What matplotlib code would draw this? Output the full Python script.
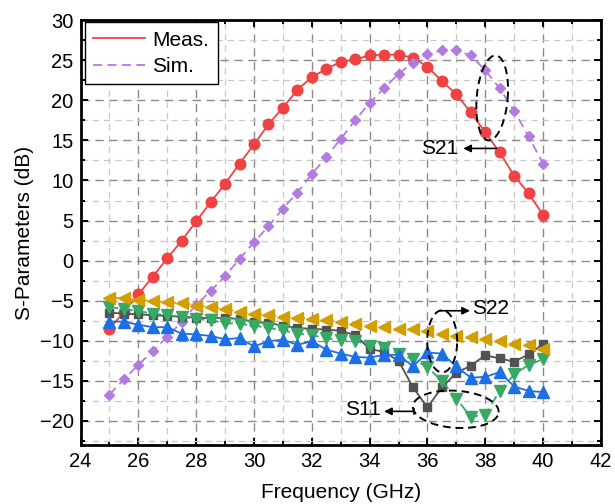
import numpy as np
import matplotlib
matplotlib.use("Agg")
import matplotlib.pyplot as plt
from matplotlib.ticker import MultipleLocator
from matplotlib.lines import Line2D

plt.rcParams['font.family'] = ['Liberation Sans', 'DejaVu Sans']

freq = [25.0, 25.5, 26.0, 26.5, 27.0, 27.5, 28.0, 28.5, 29.0, 29.5, 30.0,
        30.5, 31.0, 31.5, 32.0, 32.5, 33.0, 33.5, 34.0, 34.5, 35.0, 35.5,
        36.0, 36.5, 37.0, 37.5, 38.0, 38.5, 39.0, 39.5, 40.0]

s21_meas = [-8.5, -6.4, -4.2, -2.0, 0.3, 2.5, 4.9, 7.3, 9.6, 12.1, 14.5,
            17.0, 19.1, 21.3, 22.9, 23.9, 24.8, 25.1, 25.6, 25.7, 25.7, 25.3,
            24.2, 22.4, 20.75, 18.5, 16.0, 13.5, 10.6, 8.4, 5.7]
s21_sim = [-16.7, -14.8, -13.0, -11.25, -9.5, -7.6, -5.5, -3.8, -1.9, 0.2, 2.3,
           4.3, 6.5, 8.5, 10.8, 12.9, 15.2, 17.5, 19.7, 21.5, 23.3, 24.7,
           25.8, 26.25, 26.25, 25.6, 23.75, 21.5, 18.7, 15.5, 12.1]
s11_meas = [-6.5, -6.6, -6.7, -6.8, -6.9, -7.0, -7.1, -7.2, -7.1, -7.3, -7.6,
            -7.8, -8.1, -8.4, -8.5, -8.6, -8.75, -9.3, -11.0, -11.4, -12.5, -15.8,
            -18.3, -15.8, -14.0, -13.1, -11.8, -12.2, -12.6, -11.7, -10.4]
s11_sim = [-5.8, -6.0, -6.3, -6.6, -6.8, -7.0, -7.3, -7.4, -7.8, -7.9, -8.1,
           -8.4, -8.7, -9.1, -9.3, -9.7, -9.9, -10.0, -10.6, -10.9, -11.6, -12.3,
           -13.3, -15.0, -17.2, -19.5, -19.2, -16.25, -14.2, -13.0, -12.3]
s22_meas = [-7.6, -7.6, -8.0, -8.3, -8.3, -9.1, -9.2, -9.4, -9.8, -9.65, -10.7,
            -10.05, -9.85, -10.5, -10.05, -11.1, -11.6, -12.0, -12.1, -11.75, -11.75, -13.2,
            -11.45, -11.6, -13.2, -14.6, -14.5, -13.9, -15.7, -16.25, -16.4]
s22_sim = [-4.6, -4.7, -4.9, -5.0, -5.2, -5.3, -5.6, -5.8, -6.0, -6.4, -6.6,
           -6.8, -7.0, -7.1, -7.3, -7.4, -7.6, -7.9, -8.1, -8.3, -8.5, -8.5,
           -8.75, -9.2, -9.4, -9.5, -9.8, -10.0, -10.4, -10.5, -11.0]

legend_labels = ["Meas.", "Sim."]

RED = '#F04242'
PURPLE = '#B27BE0'
GOLD = '#D39E00'
GRAY = '#525252'
GREEN = '#38A865'
BLUE = '#1E6FE3'

fig = plt.figure(figsize=(6.15, 5.04), dpi=100)
ax = fig.add_axes([0.131, 0.117, 0.846, 0.843])

lw = 1.3
ax.plot(freq, s21_meas, '-', color=RED, lw=lw, marker='o', ms=7.6, zorder=3)
ax.plot(freq, s21_sim, '--', color=PURPLE, lw=lw, marker='D', ms=5.4, zorder=3,
        dashes=(5, 3))
ax.plot(freq, s11_meas, '-', color=GRAY, lw=lw, marker='s', ms=6.2, zorder=4)
ax.plot(freq, s11_sim, '--', color=GREEN, lw=lw, marker='v', ms=8.4, zorder=5,
        dashes=(5, 3))
ax.plot(freq, s22_meas, '-', color=BLUE, lw=lw, marker='^', ms=8.4, zorder=6)
ax.plot(freq, s22_sim, '--', color=GOLD, lw=lw, marker='<', ms=8.4, zorder=7,
        dashes=(5, 3))

ax.set_xlim(24, 42)
ax.set_ylim(-23, 30)
ax.xaxis.set_major_locator(MultipleLocator(2))
ax.xaxis.set_minor_locator(MultipleLocator(1))
ax.yaxis.set_major_locator(MultipleLocator(5))
ax.yaxis.set_minor_locator(MultipleLocator(2.5))

ax.grid(which='major', color='#8a8a8a', lw=1.0, ls=(0, (6, 4)), zorder=0)
ax.grid(which='minor', color='#c8c8c8', lw=0.9, ls=(0, (5, 4)), zorder=0)
ax.set_axisbelow(True)

ax.tick_params(which='both', direction='in', top=True, right=True,
               labelsize=14.5, width=1.4, pad=5)
ax.tick_params(which='major', length=5)
ax.tick_params(which='minor', length=3)
for sp in ax.spines.values():
    sp.set_linewidth(2.0)

ax.set_xlabel('Frequency (GHz)', fontsize=15, labelpad=9)
ax.set_ylabel('S-Parameters (dB)', fontsize=15, labelpad=4)

h1 = Line2D([], [], color=RED, lw=lw, ls='-')
h2 = Line2D([], [], color=PURPLE, lw=lw, ls='--', dashes=(5, 3))
leg = ax.legend([h1, h2], legend_labels, loc='upper left',
                bbox_to_anchor=(0.008, 0.995), borderaxespad=0,
                fontsize=15, handlelength=2.5, handletextpad=0.35,
                labelspacing=0.35, borderpad=0.4, fancybox=False,
                framealpha=1, edgecolor='black')
leg.get_frame().set_linewidth(1.0)

# annotation ellipses (drawn in pixel-proportional units)
PX_X = 28.93  # px per GHz
PX_Y = 8.0    # px per dB


def ellipse(cx, cy, a_px, b_px, ang_deg):
    t = np.linspace(0, 2 * np.pi, 200)
    th = np.deg2rad(ang_deg)
    xp = a_px * np.cos(t)
    yp = b_px * np.sin(t)
    xr = xp * np.cos(th) - yp * np.sin(th)
    yr = xp * np.sin(th) + yp * np.cos(th)
    ax.plot(cx + xr / PX_X, cy + yr / PX_Y, color='k', lw=1.4,
            ls=(0, (4, 2.5)), zorder=9)


ellipse(38.24, 20.3, 15.5, 42.5, -5)
ellipse(36.51, -10.06, 15, 31, 0)
ellipse(36.98, -18.54, 43, 18.5, -4)

arw = dict(arrowstyle='-|>', color='k', lw=1.2, mutation_scale=11,
           shrinkA=0, shrinkB=0)
ax.annotate('', xy=(37.24, 14.0), xytext=(38.39, 14.0), arrowprops=arw, zorder=10)
ax.text(37.08, 14.0, 'S21', fontsize=15, ha='right', va='center', zorder=10)

ax.annotate('', xy=(37.47, -6.25), xytext=(36.43, -6.25), arrowprops=arw, zorder=10)
ax.text(37.53, -5.95, 'S22', fontsize=15, ha='left', va='center', zorder=10)

ax.annotate('', xy=(34.5, -18.8), xytext=(35.55, -18.8), arrowprops=arw, zorder=10)
ax.plot([35.55, 35.55], [-18.5, -19.1], color='k', lw=1.2, zorder=10)
ax.text(34.38, -18.6, 'S11', fontsize=15, ha='right', va='center', zorder=10)

fig.savefig('out.png', dpi=100)
